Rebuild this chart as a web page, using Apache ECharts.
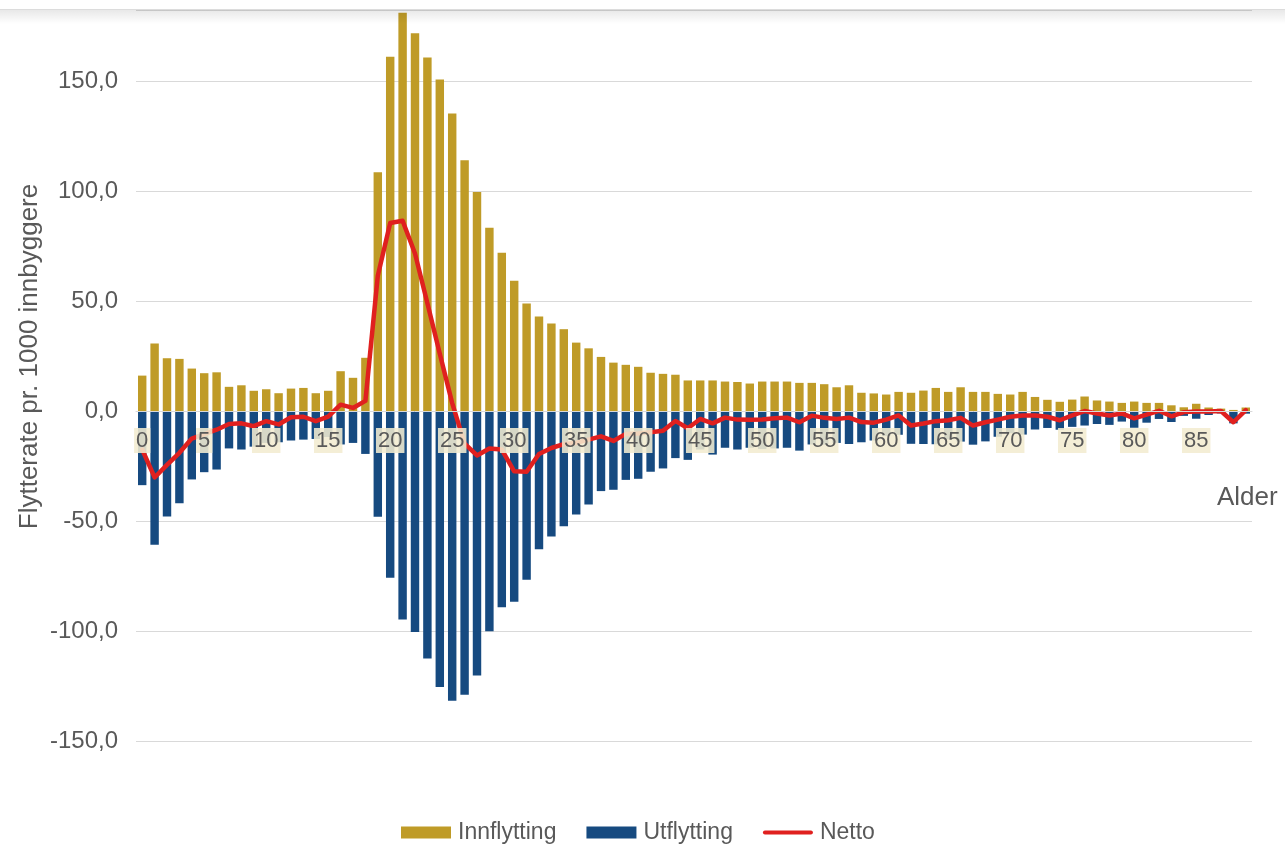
<!DOCTYPE html>
<html>
<head>
<meta charset="utf-8">
<script src="https://cdn.jsdelivr.net/npm/echarts@6/dist/echarts.min.js"></script>
<style>
html,body{margin:0;padding:0;background:#fff;}
#chart{width:1285px;height:863px;}
</style>
</head>
<body>
<div id="chart"></div>
<script>
// Ages 0..89
const ages = [];
for (let i = 0; i <= 89; i++) ages.push(String(i));

const innflytting = [
  16.1, 30.7, 24.0, 23.7, 19.3, 17.2, 17.6, 11.0, 11.7, 9.2,
  9.9, 8.1, 10.2, 10.5, 8.1, 9.2, 18.1, 15.1, 24.2, 108.5,
  161.0, 181.0, 171.7, 160.7, 150.7, 135.2, 114.0, 99.6, 83.3, 71.9,
  59.2, 48.9, 43.0, 39.8, 37.2, 31.1, 28.5, 24.6, 22.0, 21.0,
  20.1, 17.4, 16.9, 16.5, 13.9, 13.9, 13.9, 13.4, 13.2, 12.5,
  13.4, 13.4, 13.4, 12.8, 12.8, 12.2, 10.8, 11.7, 8.3, 8.0,
  7.5, 8.7, 8.3, 9.3, 10.5, 8.7, 10.8, 8.7, 8.7, 7.8,
  7.5, 8.7, 6.4, 5.1, 4.2, 5.2, 6.6, 4.8, 4.3, 3.7,
  4.3, 3.7, 3.7, 2.6, 1.7, 3.3, 1.6, 1.1, 0.5, 1.6
];

const utflytting = [
  -33.7, -60.8, -48.0, -41.9, -31.1, -27.8, -26.6, -17.0, -17.5, -16.2,
  -14.5, -14.2, -13.4, -13.0, -12.7, -11.8, -15.2, -14.5, -19.5, -48.1,
  -75.8, -94.8, -100.4, -112.5, -125.4, -131.7, -129.0, -120.2, -100.1, -89.2,
  -86.7, -76.7, -62.8, -57.0, -52.4, -47.0, -42.5, -36.4, -35.8, -31.3,
  -30.8, -27.6, -26.1, -21.4, -22.2, -17.5, -19.8, -16.7, -17.5, -16.7,
  -17.3, -17.0, -16.7, -18.0, -15.2, -15.3, -14.5, -15.0, -14.2, -13.4,
  -11.4, -10.8, -14.9, -15.0, -15.1, -12.9, -13.9, -15.3, -13.8, -11.7,
  -10.1, -10.7, -8.4, -7.7, -8.5, -7.2, -6.6, -5.9, -6.3, -4.8,
  -7.6, -5.3, -3.6, -5.0, -2.2, -3.5, -1.8, -1.1, -5.6, -1.2
];

const netto = [
  -17.5, -30.2, -24.5, -19.0, -12.5, -10.5, -8.5, -5.9, -5.6, -6.9,
  -4.6, -6.1, -2.8, -2.6, -4.6, -2.5, 2.9, 1.4, 4.6, 61.5,
  85.5, 86.5, 71.6, 49.0, 26.0, 3.6, -14.8, -20.2, -17.0, -17.5,
  -27.4, -27.6, -19.5, -16.8, -15.0, -14.5, -13.0, -11.5, -13.6, -10.4,
  -10.2, -9.6, -9.0, -4.5, -7.8, -3.6, -5.6, -3.0, -3.9, -4.0,
  -3.9, -3.3, -3.0, -5.1, -2.1, -3.1, -3.6, -3.0, -5.0, -5.3,
  -3.9, -2.0, -6.6, -5.7, -4.6, -4.2, -3.1, -6.6, -5.1, -3.9,
  -2.6, -2.0, -2.0, -2.6, -4.2, -2.0, 0.0, -1.1, -2.0, -1.1,
  -3.3, -1.6, 0.1, -2.4, -0.5, -0.2, -0.2, 0.0, -5.1, 0.4
];

const yTickLabels = [-150, -100, -50, 0, 50, 100, 150];
const yMin = -150;
const yMax = 182.3;

const FONT = '"Liberation Sans", Arial, sans-serif';
const TXT = '#595959';

const gridTop = 10, gridBottom = 122, H = 863;
const plotH = H - gridTop - gridBottom;
// move the category axis up to the zero line of the value axis
const xAxisOffset = -plotH * (0 - yMin) / (yMax - yMin);

const chart = echarts.init(document.getElementById('chart'), null, {renderer: 'canvas'});
chart.setOption({
  backgroundColor: '#ffffff',
  animation: false,
  textStyle: {fontFamily: FONT, color: TXT},
  grid: {left: 136, right: 33, top: gridTop, bottom: gridBottom, containLabel: false},
  legend: {
    left: 396,
    top: 816,
    itemWidth: 50,
    itemHeight: 12,
    itemGap: 30,
    textStyle: {fontFamily: FONT, fontSize: 23, color: TXT, padding: [0, 0, 0, 2]},
    data: [
      {name: 'Innflytting', icon: 'rect'},
      {name: 'Utflytting', icon: 'rect'},
      {name: 'Netto', icon: 'path://M2,0 L48,0 A2,2 0 0 1 48,4 L2,4 A2,2 0 0 1 2,0 Z'}
    ]
  },
  xAxis: {
    type: 'category',
    data: ages,
    position: 'bottom',
    offset: xAxisOffset,
    z: 10,
    name: 'Alder',
    nameLocation: 'end',
    nameGap: -35,
    nameMoveOverlap: false,
    nameTextStyle: {fontFamily: FONT, fontSize: 26, color: TXT, align: 'left', verticalAlign: 'top', padding: [74, 0, 0, 0]},
    axisLine: {show: true, onZero: false, lineStyle: {color: '#d9d9d9', width: 1}},
    axisTick: {show: false},
    axisLabel: {
      interval: function (idx) { return idx % 5 === 0; },
      margin: 17,
      fontFamily: FONT,
      fontSize: 22,
      color: TXT,
      backgroundColor: 'rgba(243,236,208,0.88)',
      padding: [2, 2, 1, 2]
    },
    splitLine: {show: false}
  },
  yAxis: {
    type: 'value',
    min: yMin,
    max: yMax,
    interval: 50,
    name: 'Flytterate pr. 1000 innbyggere',
    nameLocation: 'middle',
    nameGap: 93,
    nameMoveOverlap: false,
    nameTextStyle: {fontFamily: FONT, fontSize: 26, color: TXT, padding: [0, 0, 0, 38]},
    axisLine: {show: false},
    axisTick: {show: false},
    axisLabel: {
      margin: 18,
      fontFamily: FONT,
      fontSize: 24,
      color: TXT,
      formatter: function (v) {
        if (yTickLabels.indexOf(v) < 0) return '';
        return v.toFixed(1).replace('.', ',');
      }
    },
    splitLine: {show: true, lineStyle: {color: '#d9d9d9', width: 1}}
  },
  series: [
    {
      name: 'Innflytting',
      type: 'bar',
      data: innflytting,
      barWidth: '68%',
      barGap: '-100%',
      itemStyle: {color: '#BF9B27'},
      z: 2
    },
    {
      name: 'Utflytting',
      type: 'bar',
      data: utflytting,
      barWidth: '68%',
      barGap: '-100%',
      itemStyle: {color: '#164A80'},
      z: 2
    },
    {
      name: 'Netto',
      type: 'line',
      data: netto,
      symbol: 'none',
      showSymbol: false,
      itemStyle: {color: '#E0201F'},
      lineStyle: {color: '#E0201F', width: 4.5, cap: 'round', join: 'round'},
      z: 4
    }
  ],
  graphic: [
    {type: 'rect', left: 0, top: 0, z: 100, shape: {width: 1285, height: 9}, style: {fill: '#ffffff'}},
    {type: 'rect', left: 0, top: 9, z: 100, shape: {width: 1285, height: 1}, style: {fill: '#dcdcdc'}},
    {type: 'rect', left: 0, top: 10, z: 100, shape: {width: 1285, height: 14},
      style: {fill: new echarts.graphic.LinearGradient(0, 0, 0, 1, [
        {offset: 0, color: 'rgba(0,0,0,0.09)'},
        {offset: 1, color: 'rgba(0,0,0,0)'}
      ])}}
  ]
});
</script>
</body>
</html>
